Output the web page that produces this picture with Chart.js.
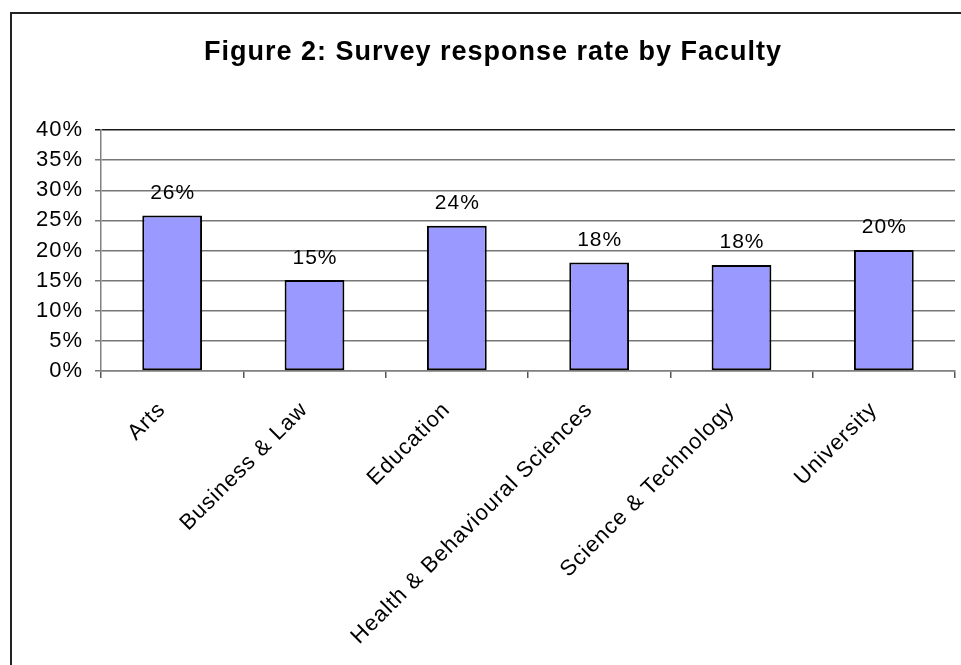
<!DOCTYPE html>
<html>
<head>
<meta charset="utf-8">
<script src="https://cdn.jsdelivr.net/npm/chart.js@4.4.1/dist/chart.umd.min.js"></script>
<style>
  html, body { margin: 0; padding: 0; background: #ffffff; }
  canvas { display: block; }
</style>
</head>
<body>
<canvas id="chart" width="961" height="665"></canvas>
<script>
// ---- data ----
const chartTitle = 'Figure 2: Survey response rate by Faculty';
const categories = ['Arts', 'Business & Law', 'Education', 'Health & Behavioural Sciences', 'Science & Technology', 'University'];
const responseRates = [25.8, 15.1, 24.1, 18.0, 17.6, 20.1]; // percent
const yTickValues = [0, 5, 10, 15, 20, 25, 30, 35, 40];

// ---- styling helpers ----
const FONT = '"Liberation Sans", Arial, sans-serif';
const LETTER_SPACING = '1px';

const spacingPlugin = {
  id: 'spacing',
  beforeUpdate(chart) { chart.ctx.letterSpacing = LETTER_SPACING; },
  beforeLayout(chart) { chart.ctx.letterSpacing = LETTER_SPACING; },
  beforeDraw(chart) { chart.ctx.letterSpacing = LETTER_SPACING; }
};

const framePlugin = {
  id: 'frame',
  beforeDraw(chart) {
    const ctx = chart.ctx;
    ctx.save();
    ctx.fillStyle = '#ffffff';
    ctx.fillRect(0, 0, chart.width, chart.height);
    ctx.strokeStyle = '#222222';
    ctx.lineWidth = 2;
    ctx.beginPath();
    ctx.moveTo(11, chart.height + 5);
    ctx.lineTo(11, 13);
    ctx.lineTo(chart.width + 5, 13);
    ctx.stroke();
    ctx.restore();
  }
};

const barLabelPlugin = {
  id: 'barLabels',
  afterDatasetsDraw(chart) {
    const ctx = chart.ctx;
    const meta = chart.getDatasetMeta(0);
    ctx.save();
    ctx.letterSpacing = LETTER_SPACING;
    ctx.font = '21px ' + FONT;
    ctx.fillStyle = '#000000';
    ctx.textAlign = 'center';
    ctx.textBaseline = 'alphabetic';
    meta.data.forEach((bar, i) => {
      ctx.fillText(Math.round(responseRates[i]) + '%', bar.x + 0.5, bar.y - 16.5);
    });
    ctx.restore();
  }
};

new Chart(document.getElementById('chart'), {
  type: 'bar',
  data: {
    labels: categories,
    datasets: [{
      data: responseRates,
      backgroundColor: '#9999FF',
      borderColor: '#000000',
      borderWidth: 2,
      borderSkipped: false,
      categoryPercentage: 1.0,
      barPercentage: 0.42
    }]
  },
  options: {
    responsive: false,
    devicePixelRatio: 1,
    animation: false,
    layout: { padding: { left: 31, right: 6, top: 0, bottom: 0 } },
    plugins: {
      legend: { display: false },
      tooltip: { enabled: false },
      title: {
        display: true,
        text: chartTitle,
        color: '#000000',
        font: { family: FONT, size: 27, weight: 'bold', lineHeight: 1.2 },
        padding: { top: 36, bottom: 61.6 }
      }
    },
    scales: {
      x: {
        offset: true,
        grid: {
          offset: true,
          drawOnChartArea: false,
          drawTicks: true,
          tickLength: 7,
          color: '#555555',
          lineWidth: 1.5
        },
        border: { display: true, color: '#808080', width: 1.5 },
        ticks: {
          color: '#000000',
          font: { family: FONT, size: 22 },
          minRotation: 45,
          maxRotation: 45,
          autoSkip: false,
          padding: 19,
          labelOffset: -10
        },
        afterFit(scale) { scale.height = 294; }
      },
      y: {
        min: 0,
        max: 40,
        afterBuildTicks(scale) { scale.ticks = yTickValues.map(v => ({ value: v })); },
        grid: {
          drawTicks: true,
          tickLength: 6,
          color: (c) => (c.tick && c.tick.value === 40) ? '#1a1a1a' : '#777777',
          lineWidth: 1.5
        },
        border: { display: true, color: '#808080', width: 1.5 },
        ticks: {
          color: '#000000',
          font: { family: FONT, size: 22 },
          padding: 12,
          callback: (v) => v + '%'
        },
        afterFit(scale) { scale.width = 70; }
      }
    }
  },
  plugins: [spacingPlugin, framePlugin, barLabelPlugin]
});
</script>
</body>
</html>
